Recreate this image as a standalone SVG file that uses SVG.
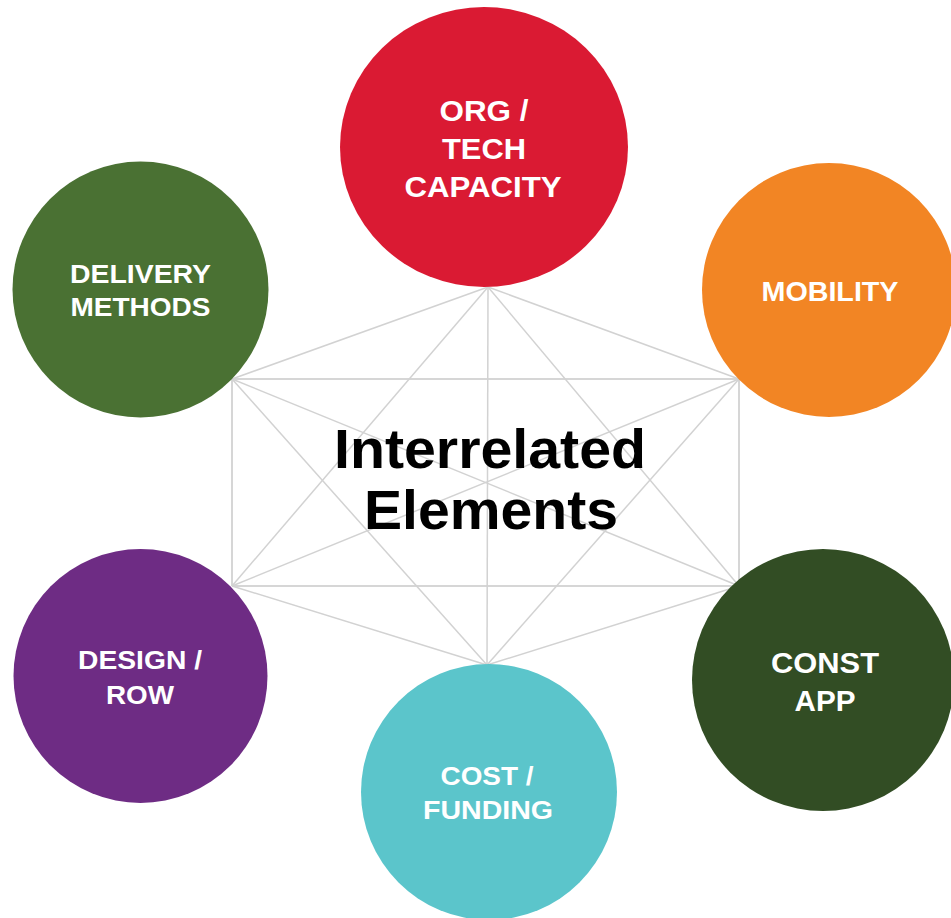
<svg xmlns="http://www.w3.org/2000/svg" width="951" height="918" viewBox="0 0 951 918">
<style>
.bg{fill:#ffffff}
.conn line{stroke:#d2d2d2;stroke-width:1.5;fill:none}
.conn line.rect{stroke:#d6d6d6;stroke-width:2}
.lbl{font-family:"Liberation Sans",Arial,sans-serif;font-weight:bold;fill:#ffffff;text-anchor:middle}
.title{font-family:"Liberation Sans",Arial,sans-serif;font-weight:bold;fill:#000000;text-anchor:middle}
</style>
<rect class="bg" x="0" y="0" width="951" height="918"/>
<g id="connectors" class="conn">
  <line class="rect" x1="232" y1="379" x2="739" y2="379"/>
  <line class="rect" x1="232" y1="586" x2="739" y2="586"/>
  <line class="rect" x1="232" y1="379" x2="232" y2="586"/>
  <line class="rect" x1="739" y1="379" x2="739" y2="586"/>
  <line x1="488" y1="287" x2="487" y2="665"/>
  <line x1="488" y1="287" x2="232" y2="379"/>
  <line x1="488" y1="287" x2="739" y2="379"/>
  <line x1="488" y1="287" x2="232" y2="586"/>
  <line x1="488" y1="287" x2="739" y2="586"/>
  <line x1="487" y1="665" x2="232" y2="586"/>
  <line x1="487" y1="665" x2="739" y2="586"/>
  <line x1="487" y1="665" x2="232" y2="379"/>
  <line x1="487" y1="665" x2="739" y2="379"/>
  <line x1="232" y1="379" x2="739" y2="586"/>
  <line x1="739" y1="379" x2="232" y2="586"/>
</g>
<g id="center">
  <text class="title" x="490" y="468" font-size="55" textLength="312" lengthAdjust="spacingAndGlyphs">Interrelated</text>
  <text class="title" x="491" y="529" font-size="55" textLength="254" lengthAdjust="spacingAndGlyphs">Elements</text>
</g>
<g id="org-tech">
  <ellipse cx="484" cy="147" rx="144" ry="140" fill="#da1a33"/>
  <text class="lbl" x="484" y="121" font-size="29" textLength="89" lengthAdjust="spacingAndGlyphs">ORG /</text>
  <text class="lbl" x="484" y="159" font-size="29" textLength="84" lengthAdjust="spacingAndGlyphs">TECH</text>
  <text class="lbl" x="483" y="197" font-size="29" textLength="157" lengthAdjust="spacingAndGlyphs">CAPACITY</text>
</g>
<g id="delivery">
  <circle cx="140.5" cy="289.5" r="128" fill="#4a7133"/>
  <text class="lbl" x="140.5" y="283" font-size="25.5" textLength="141" lengthAdjust="spacingAndGlyphs">DELIVERY</text>
  <text class="lbl" x="140.5" y="316" font-size="25.5" textLength="140" lengthAdjust="spacingAndGlyphs">METHODS</text>
</g>
<g id="mobility">
  <circle cx="829" cy="290" r="127" fill="#f28524"/>
  <text class="lbl" x="830" y="301" font-size="27" textLength="137" lengthAdjust="spacingAndGlyphs">MOBILITY</text>
</g>
<g id="design">
  <circle cx="140.5" cy="676" r="127" fill="#6e2c84"/>
  <text class="lbl" x="140" y="669" font-size="26" textLength="124" lengthAdjust="spacingAndGlyphs">DESIGN /</text>
  <text class="lbl" x="140" y="704" font-size="26" textLength="68" lengthAdjust="spacingAndGlyphs">ROW</text>
</g>
<g id="const-app">
  <circle cx="823" cy="680" r="131" fill="#324d24"/>
  <text class="lbl" x="825" y="673" font-size="29" textLength="108" lengthAdjust="spacingAndGlyphs">CONST</text>
  <text class="lbl" x="825" y="711" font-size="29" textLength="61" lengthAdjust="spacingAndGlyphs">APP</text>
</g>
<g id="cost-funding">
  <circle cx="489" cy="792" r="128" fill="#5bc5cb"/>
  <text class="lbl" x="487" y="785" font-size="26" textLength="93" lengthAdjust="spacingAndGlyphs">COST /</text>
  <text class="lbl" x="488" y="819" font-size="26" textLength="130" lengthAdjust="spacingAndGlyphs">FUNDING</text>
</g>
</svg>
